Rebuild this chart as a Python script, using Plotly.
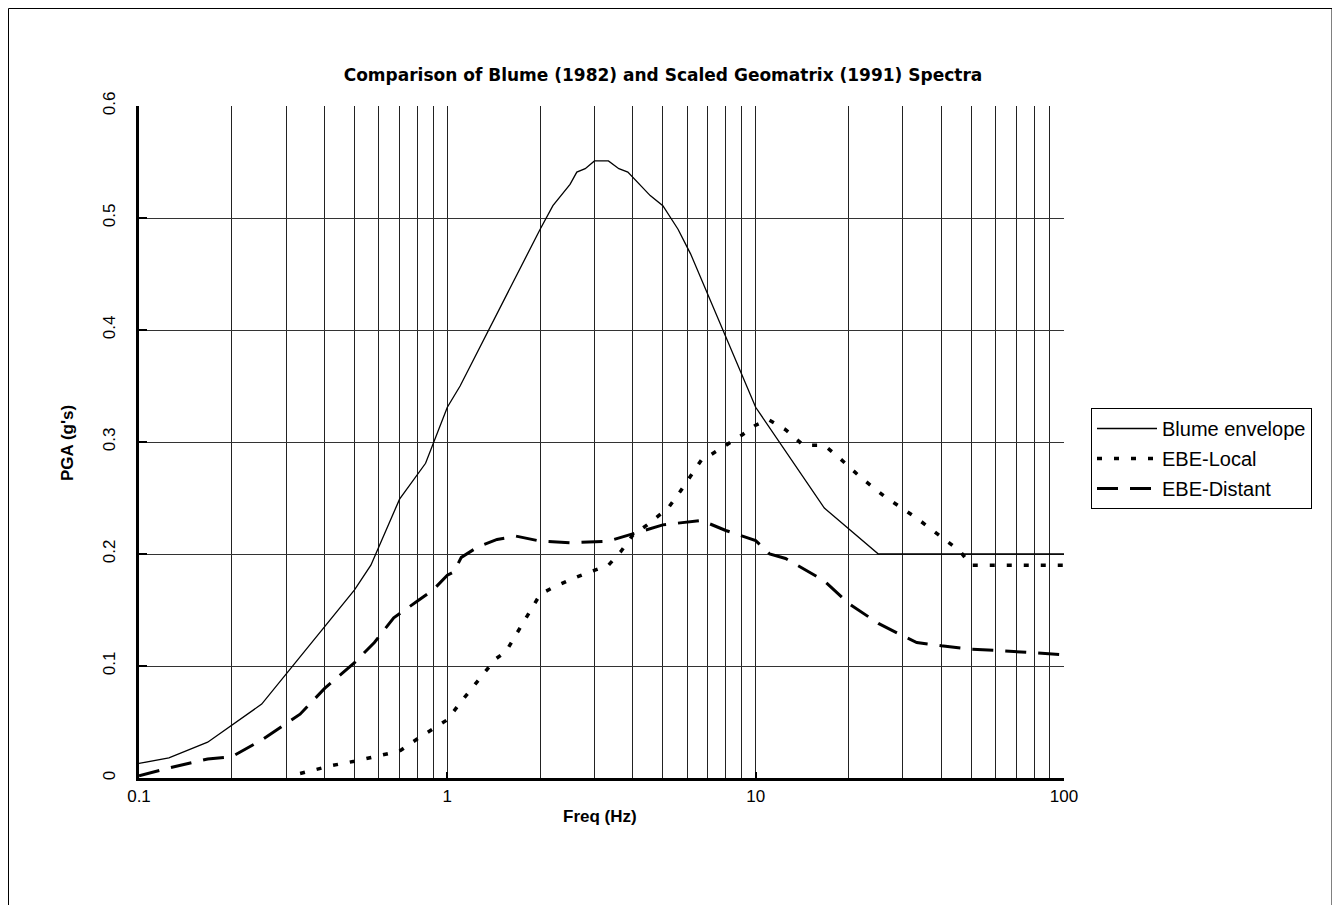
import plotly.graph_objects as go

# Blume (1982) envelope
blume_freq = [0.1, 0.125, 0.167, 0.25, 0.5, 0.565, 0.7, 0.85, 1.0, 1.1, 2.0, 2.2, 2.5, 2.63,
              2.8, 3.0, 3.33, 3.6, 3.85, 4.55, 5.0, 5.6, 6.15, 10.0, 16.7, 25.0, 100.0]
blume_pga = [0.013, 0.018, 0.032, 0.066, 0.168, 0.19, 0.249, 0.281, 0.331, 0.35, 0.49, 0.511,
             0.53, 0.541, 0.544, 0.551, 0.551, 0.544, 0.541, 0.52, 0.511, 0.49, 0.468, 0.331,
             0.241, 0.2, 0.2]

# Scaled Geomatrix (1991) - local event
local_freq = [0.333, 0.42, 0.5, 0.6, 0.7, 0.8, 0.9, 1.0, 1.1, 1.25, 1.43, 1.55, 1.67, 1.85, 2.0,
              2.2, 2.5, 2.9, 3.33, 3.65, 4.0, 4.45, 5.2, 5.7, 6.15, 6.67, 7.1, 8.0, 9.0, 10.0,
              11.0, 12.5, 14.3, 16.7, 18.3, 22.0, 26.0, 33.3, 40.0, 46.0, 50.0, 100.0]
local_pga = [0.004, 0.011, 0.015, 0.02, 0.024, 0.035, 0.044, 0.052, 0.067, 0.086, 0.106, 0.113,
             0.128, 0.149, 0.164, 0.17, 0.177, 0.184, 0.19, 0.202, 0.217, 0.226, 0.241, 0.256,
             0.27, 0.284, 0.288, 0.297, 0.306, 0.315, 0.32, 0.311, 0.297, 0.297, 0.288, 0.268,
             0.252, 0.232, 0.215, 0.2025, 0.19, 0.19]

# Scaled Geomatrix (1991) - distant event
distant_freq = [0.1, 0.125, 0.167, 0.2, 0.25, 0.333, 0.4, 0.5, 0.58, 0.67, 0.8, 0.9, 1.0, 1.05,
                1.11, 1.25, 1.45, 1.67, 2.0, 2.5, 3.33, 4.0, 5.0, 6.67, 8.0, 10.0, 11.1, 12.5,
                16.7, 20.0, 25.0, 29.0, 33.3, 40.0, 50.0, 60.0, 80.0, 100.0]
distant_pga = [0.002, 0.009, 0.017, 0.019, 0.034, 0.057, 0.08, 0.103, 0.121, 0.143, 0.158, 0.168,
               0.181, 0.184, 0.197, 0.206, 0.213, 0.216, 0.2115, 0.21, 0.2115, 0.218, 0.226,
               0.23, 0.221, 0.212, 0.2, 0.196, 0.176, 0.156, 0.138, 0.129, 0.121, 0.118, 0.115,
               0.114, 0.112, 0.11]

x_ticks = [0.1, 1, 10, 100]
x_labels = ["0.1", "1", "10", "100"]
y_ticks = [0, 0.1, 0.2, 0.3, 0.4, 0.5, 0.6]
y_labels = ["0", "0.1", "0.2", "0.3", "0.4", "0.5", "0.6"]

FONT = "Arial, Liberation Sans, sans-serif"
minor_x = [m * d for d in (0.1, 1, 10) for m in range(2, 10)]

# plot area in page pixels (the page adds an 8px body margin)
L, R, T, B = 131, 1056, 98, 770
PW, PH = R - L, B - T

fig = go.Figure()
fig.add_trace(go.Scatter(x=blume_freq, y=blume_pga, mode="lines", name="Blume envelope",
                         legendgroup="a", line=dict(color="black", width=1.3)))
fig.add_trace(go.Scatter(x=local_freq, y=local_pga, mode="lines", name="EBE-Local",
                         legendgroup="b", line=dict(color="black", width=3.5, dash="5px,12px")))
fig.add_trace(go.Scatter(x=distant_freq, y=distant_pga, mode="lines", name="EBE-Distant",
                         legendgroup="c", line=dict(color="black", width=3, dash="21px,12px")))

fig.update_layout(
    width=1340, height=905,
    margin=dict(l=L, r=1340 - R, t=T, b=905 - B),
    paper_bgcolor="white", plot_bgcolor="white",
    font=dict(family=FONT, color="black", size=17),
    title=dict(text="<b>Comparison of Blume (1982) and Scaled Geomatrix (1991) Spectra</b>",
               x=655 / 1340, xref="container", y=1 - 67 / 905, yref="container",
               xanchor="center", yanchor="middle",
               font=dict(family="DejaVu Sans, sans-serif", size=17)),
    xaxis=dict(type="log", range=[-1, 2], tickvals=x_ticks, ticktext=x_labels,
               showgrid=True, gridcolor="#222", gridwidth=1,
               minor=dict(tickvals=minor_x, showgrid=True, gridcolor="#222", gridwidth=1, ticks=""),
               showline=True, linecolor="black", linewidth=3,
               ticks="inside", ticklen=6, tickwidth=2, tickcolor="black",
               ticklabelstandoff=1, automargin=False, zeroline=False),
    yaxis=dict(range=[0, 0.6], tickvals=y_ticks, ticktext=y_labels, tickangle=-90,
               showgrid=True, gridcolor="#333", gridwidth=1,
               showline=True, linecolor="black", linewidth=3,
               ticks="inside", ticklen=8, tickwidth=2, tickcolor="black",
               ticklabelstandoff=14, automargin=False, zeroline=False),
    xaxis2=dict(type="log", range=[-1, 2], overlaying="x", anchor="y", side="bottom",
                tickvals=x_ticks, ticks="outside", ticklen=6, tickwidth=2, tickcolor="black",
                showticklabels=False, showgrid=False, showline=False, zeroline=False),
    yaxis2=dict(range=[0, 0.6], overlaying="y", anchor="x", side="left",
                tickvals=y_ticks, ticks="outside", ticklen=6, tickwidth=2, tickcolor="black",
                showticklabels=False, showgrid=False, showline=False, zeroline=False),
    legend=dict(x=(1091 - 139) / 925, y=(778 - 408) / 672, xanchor="left", yanchor="top",
                bordercolor="black", borderwidth=1, bgcolor="white",
                font=dict(size=20), itemwidth=60, tracegroupgap=1, traceorder="grouped"),
    annotations=[
        dict(text="<b>Freq (Hz)</b>", xref="paper", yref="paper", x=(600 - 139) / 925,
             y=(778 - 816) / 672, showarrow=False, xanchor="center", yanchor="middle",
             font=dict(size=17)),
        dict(text="<b>PGA (g's)</b>", xref="paper", yref="paper", x=(67 - 139) / 925,
             y=(778 - 443) / 672, showarrow=False, textangle=-90, xanchor="center",
             yanchor="middle", font=dict(size=17)),
    ],
    shapes=[dict(type="rect", xref="paper", yref="paper",
                 x0=(0.5 - L) / PW, x1=(1324 - L) / PW,
                 y0=(B - 960) / PH, y1=(B - 0.5) / PH,
                 line=dict(color="black", width=1), layer="below")],
    showlegend=True,
)

fig.write_html("out.html")
